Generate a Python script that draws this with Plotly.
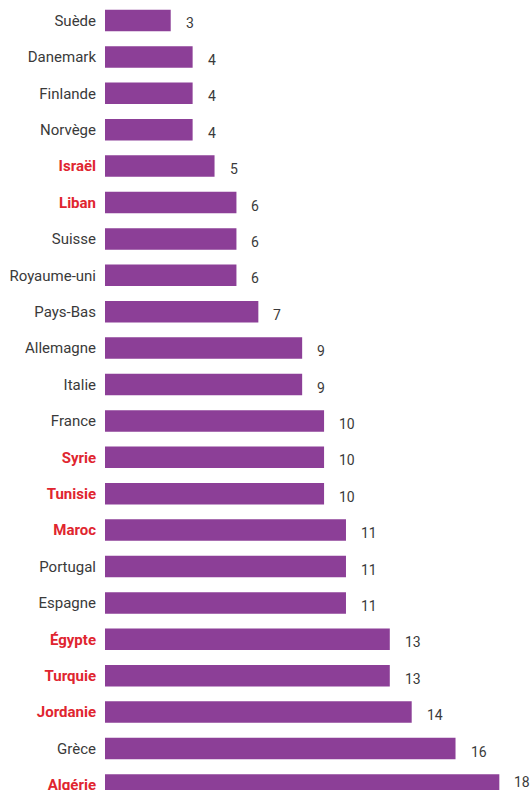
import plotly.graph_objects as go

countries = ["Suède", "Danemark", "Finlande", "Norvège", "Israël", "Liban", "Suisse",
             "Royaume-uni", "Pays-Bas", "Allemagne", "Italie", "France", "Syrie", "Tunisie",
             "Maroc", "Portugal", "Espagne", "Égypte", "Turquie", "Jordanie", "Grèce", "Algérie"]
values = [3, 4, 4, 4, 5, 6, 6, 6, 7, 9, 9, 10, 10, 10, 11, 11, 11, 13, 13, 14, 16, 18]
highlight = ["Israël", "Liban", "Syrie", "Tunisie", "Maroc", "Égypte", "Turquie", "Jordanie", "Algérie"]

PURPLE = "#8C3F97"
RED = "#E0252F"
GRAY = "#3a3a3a"

ticktext = [
    f"<b><span style='color:{RED}'>{c}</span></b>" if c in highlight else c
    for c in countries
]

fig = go.Figure(go.Bar(
    x=values, y=countries, orientation="h",
    marker=dict(color=PURPLE, line=dict(width=0)),
    hoverinfo="skip",
))

n = len(values)
for i, (c, v) in enumerate(zip(countries, values)):
    # keep the last label inside the page (bottom bar is cut by the frame)
    fig.add_annotation(x=v, y=c, text=str(v), showarrow=False,
                       xanchor="left", xshift=13, yshift=(3 if i == n - 1 else -3),
                       font=dict(family="Roboto", size=14, color=GRAY))

fig.update_layout(
    width=530, height=790,
    margin=dict(l=105, r=0, t=0, b=0, autoexpand=False),
    plot_bgcolor="white", paper_bgcolor="white",
    bargap=0.41,
    showlegend=False,
    font=dict(family="Roboto", size=14, color=GRAY),
    xaxis=dict(range=[0, 19.4], visible=False, fixedrange=True, automargin=False),
    yaxis=dict(
        categoryorder="array", categoryarray=countries,
        tickmode="array", tickvals=countries, ticktext=ticktext,
        range=[21.14, -0.563], showgrid=False, zeroline=False, showline=False,
        ticks="", ticklabelstandoff=8, automargin=False,
        tickfont=dict(family="Roboto", size=15, color=GRAY),
    ),
)

fig.write_html("out.html", config={"displayModeBar": False},
               post_script="document.body.style.margin='0';document.body.style.overflow='hidden';")
